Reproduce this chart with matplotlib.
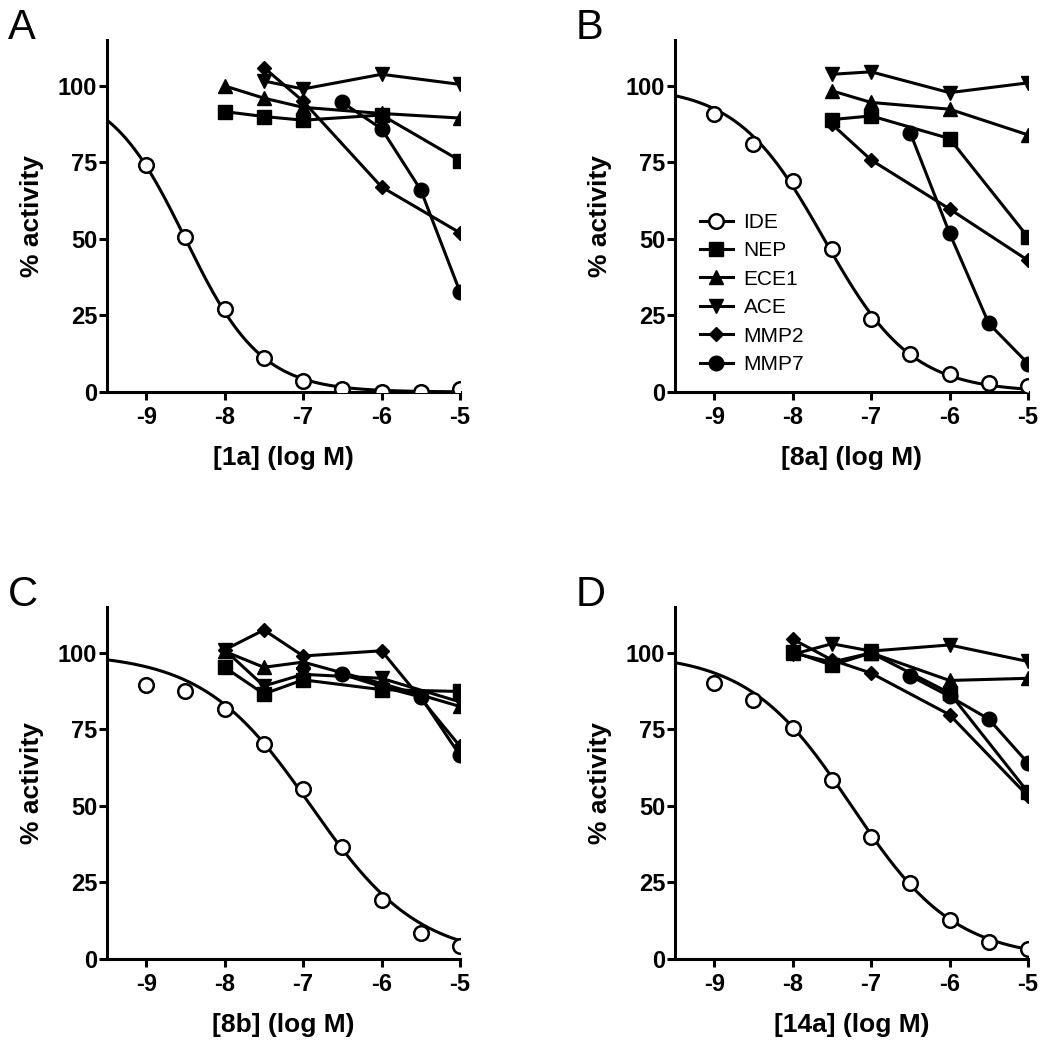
import numpy as np
import matplotlib
matplotlib.use('Agg')
import matplotlib.pyplot as plt
from matplotlib.lines import Line2D

plt.rcParams['font.family'] = ['Liberation Sans', 'DejaVu Sans']
plt.rcParams['axes.unicode_minus'] = False

# log concentrations
x_ide = [-9, -8.5, -8, -7.5, -7, -6.5, -6, -5.5, -5]
x_five = [-8, -7.5, -7, -6, -5]
x_four = [-7.5, -7, -6, -5]
x_mmp7 = [-6.5, -6, -5.5, -5]

# panel A: [1a]
ide_A = [74, 50.5, 27, 11, 3.5, 1, 0, 0, 1]
nep_A = [91.6, 90, 88.8, 90.5, 75.6]
ece1_A = [100, 96, 93, 91, 89.5]
ace_A = [101.6, 99, 103.8, 100.5]
mmp2_A = [106, 95, 67, 52]
mmp7_A = [94.6, 86, 66, 32.7]
fit_A = (100, 0, -8.5, 0.9)   # top, bottom, logIC50, hill

# panel B: [8a]
ide_B = [90.8, 81, 68.8, 46.6, 24, 12.4, 5.9, 2.8, 2]
nep_B = [89, 90.2, 82.8, 50.6]
ece1_B = [98.4, 94.6, 92.4, 84]
ace_B = [103.8, 104.6, 97.8, 101]
mmp2_B = [87.5, 75.8, 59.8, 43]
mmp7_B = [84.6, 51.9, 22.4, 9.3]
fit_B = (100, 0, -7.6, 0.78)

# panel C: [8b]
ide_C = [89.5, 87.4, 81.8, 70.2, 55.6, 36.7, 19.3, 8.5, 4.1]
nep_C = [95.3, 86.6, 91.2, 88, 87.4]
ece1_C = [100.5, 95.3, 97, 90, 82.5]
ace_C = [101, 89.2, 93, 91.7, 84]
mmp2_C = [101, 107.5, 99, 100.7, 69.5]
mmp7_C = [93, 89, 85.6, 66.5]
fit_C = (100, 0, -6.9, 0.63)

# panel D: [14a]
ide_D = [90.3, 84.7, 75.5, 58.6, 39.8, 24.7, 12.8, 5.6, 3.3]
nep_D = [100.4, 96, 100, 86.9, 54.5]
ece1_D = [100, 97, 100, 91, 91.7]
ace_D = [99.5, 103, 100.6, 102.6, 97.2]
mmp2_D = [104.5, 97.7, 93.4, 79.8, 53.2]
mmp7_D = [92.5, 85.8, 78.4, 64]
fit_D = (100, 0, -7.25, 0.66)

panels = [
    ('A', '[1a] (log M)', ide_A, fit_A, (x_five, nep_A), (x_five, ece1_A), (x_four, ace_A), (x_four, mmp2_A), (x_mmp7, mmp7_A)),
    ('B', '[8a] (log M)', ide_B, fit_B, (x_four, nep_B), (x_four, ece1_B), (x_four, ace_B), (x_four, mmp2_B), (x_mmp7, mmp7_B)),
    ('C', '[8b] (log M)', ide_C, fit_C, (x_five, nep_C), (x_five, ece1_C), (x_five, ace_C), (x_five, mmp2_C), (x_mmp7, mmp7_C)),
    ('D', '[14a] (log M)', ide_D, fit_D, (x_five, nep_D), (x_five, ece1_D), (x_five, ace_D), (x_five, mmp2_D), (x_mmp7, mmp7_D)),
]

W = 1050.0
rects = [(107, 40), (675, 40), (107, 607), (675, 607)]  # left, top px
aw, ah = 353, 352

fig = plt.figure(figsize=(10.5, 10.5), dpi=100)
lw = 2.2
for (letter, xlab, ide, fit, nep, ece1, ace, mmp2, mmp7), (lx, ty) in zip(panels, rects):
    ax = fig.add_axes([lx / W, 1 - (ty + ah) / W, aw / W, ah / W])
    top, bot, c, h = fit
    xs = np.linspace(-9.5, -5, 300)
    ax.plot(xs, bot + (top - bot) / (1 + 10 ** ((xs - c) * h)), color='k', lw=lw, zorder=2)
    ax.plot(x_ide, ide, ls='none', marker='o', ms=10.5, mfc='white', mec='k', mew=1.8, label='IDE', zorder=3)
    styles = [(nep, 's', 9.5, 'NEP'), (ece1, '^', 10, 'ECE1'), (ace, 'v', 10, 'ACE'),
              (mmp2, 'D', 7.5, 'MMP2'), (mmp7, 'o', 10.5, 'MMP7')]
    for (xx, yy), m, ms, lab in styles:
        ax.plot(xx, yy, color='k', lw=lw, marker=m, ms=ms, mfc='k', mec='k', label=lab, zorder=4)
    ax.set_xlim(-9.5, -5)
    ax.set_ylim(0, 115)
    ax.set_xticks([-9, -8, -7, -6, -5])
    ax.set_yticks([0, 25, 50, 75, 100])
    for s in ['top', 'right']:
        ax.spines[s].set_visible(False)
    for s in ['left', 'bottom']:
        ax.spines[s].set_linewidth(lw)
    ax.tick_params(direction='out', length=6, width=lw, labelsize=17)
    ax.tick_params(axis='y', pad=1)
    ax.tick_params(axis='x', pad=4)
    for t in ax.get_xticklabels() + ax.get_yticklabels():
        t.set_fontweight('bold')
    ax.set_xlabel(xlab, fontsize=19, fontweight='bold', labelpad=12)
    ax.set_ylabel('% activity', fontsize=19, fontweight='bold', labelpad=10)
    fig.text((lx - 99) / W, 1 - (ty - 1) / W, letter, fontsize=30, ha='left', va='baseline')
    if letter == 'B':
        hs, ls = ax.get_legend_handles_labels()
        hs[0] = Line2D([], [], color='k', lw=lw, marker='o', ms=10.5, mfc='white', mec='k', mew=1.8)
        ax.legend(hs, ls, loc='center left', bbox_to_anchor=(0.07, 0.28), frameon=False,
                  fontsize=15, handlelength=1.6, handletextpad=0.5, labelspacing=0.45,
                  borderpad=0, borderaxespad=0)

fig.savefig('out.png', dpi=100)
